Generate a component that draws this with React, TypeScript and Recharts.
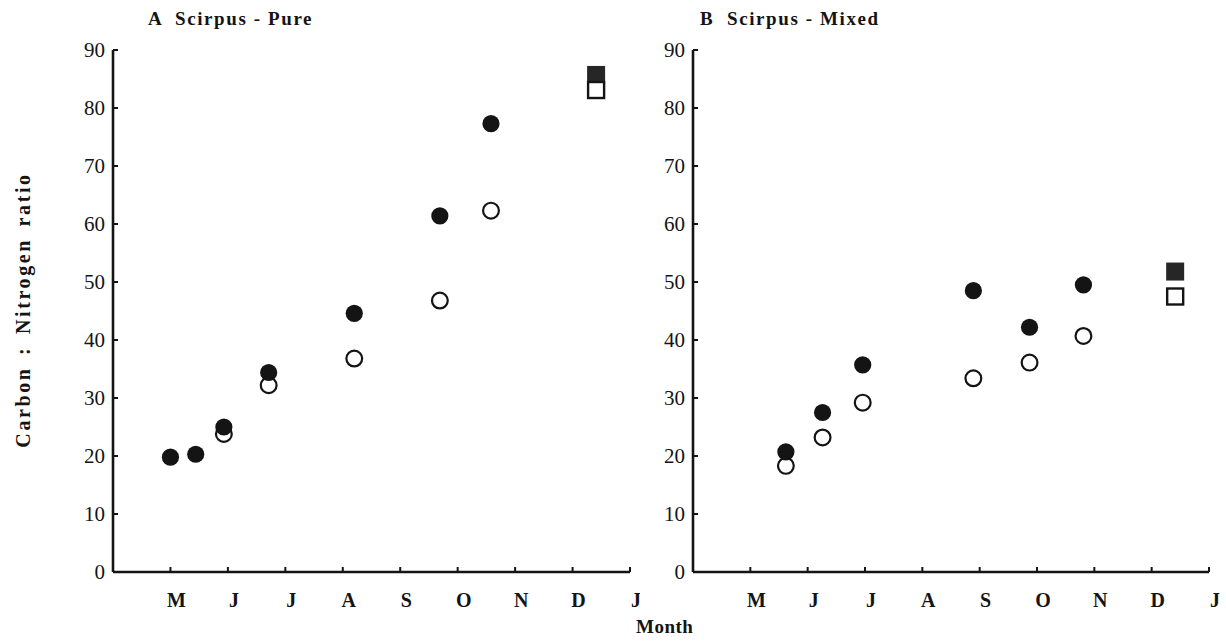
import { ScatterChart, Scatter, XAxis, YAxis } from "recharts"

// sampling dates as fractional months (5 = 1 May, 13 = 1 Jan)
const pureMonths = [5.0, 5.44, 5.93, 6.71, 8.2, 9.69, 10.58]
const pureSolid = [19.8, 20.3, 25.0, 34.4, 44.6, 61.4, 77.3]
const pureHollowMonths = [5.93, 6.71, 8.2, 9.69, 10.58]
const pureHollow = [23.8, 32.2, 36.8, 46.8, 62.3]

const mixedMonths = [5.62, 6.26, 6.96, 8.89, 9.87, 10.81]
const mixedSolid = [20.7, 27.5, 35.7, 48.5, 42.2, 49.5]
const mixedHollow = [18.3, 23.2, 29.2, 33.4, 36.1, 40.7]

// December squares
const squareMonth = 12.41
const pureSquares = { solid: 85.7, hollow: 83.1 }
const mixedSquares = { solid: 51.8, hollow: 47.5 }

const monthTicks = [5, 6, 7, 8, 9, 10, 11, 12, 13]
const monthLabels = ["M", "J", "J", "A", "S", "O", "N", "D", "J"]
const ratioTicks = [0, 10, 20, 30, 40, 50, 60, 70, 80, 90]

const INK = "#141414"
const SERIF = '"Liberation Serif", "DejaVu Serif", serif'

const toPoints = (xs: number[], ys: number[]) => xs.map((x, i) => ({ x, y: ys[i] }))

const SolidDot = (p: any) => <circle cx={p.cx} cy={p.cy} r={8.6} fill={INK} />
const HollowDot = (p: any) => (
  <circle cx={p.cx} cy={p.cy} r={7.9} fill="#fff" stroke={INK} strokeWidth={2.2} />
)
const SolidSquare = (p: any) => <rect x={p.cx - 9} y={p.cy - 9} width={18} height={18} fill="#262626" />
const HollowSquare = (p: any) => (
  <rect x={p.cx - 8} y={p.cy - 8} width={16} height={16} fill="#fff" stroke={INK} strokeWidth={2.4} />
)

const MonthTick = (props: any) => {
  const { x, y, index } = props
  return (
    <g>
      <line x1={x} y1={y} x2={x} y2={y - 5} stroke={INK} strokeWidth={2} />
      <text x={x + 6} y={y + 35} textAnchor="middle" fontFamily={SERIF} fontWeight="bold" fontSize={20} fill={INK}>
        {monthLabels[index]}
      </text>
    </g>
  )
}

const RatioTick = (props: any) => {
  const { x, y, payload } = props
  return (
    <g>
      <line x1={x} y1={y} x2={x + 5} y2={y} stroke={INK} strokeWidth={2} />
      <text x={x - 8} y={y + 7} textAnchor="end" fontFamily={SERIF} fontSize={21} fill={INK}>
        {payload.value}
      </text>
    </g>
  )
}

interface PanelProps {
  width: number
  left: number
  right: number
  months: number[]
  solid: number[]
  hollowMonths: number[]
  hollow: number[]
  squares: { solid: number; hollow: number }
}

function Panel({ width, left, right, months, solid, hollowMonths, hollow, squares }: PanelProps) {
  return (
    <ScatterChart width={width} height={641} margin={{ top: 50, left, right, bottom: 39 }}>
      <XAxis
        type="number"
        dataKey="x"
        domain={[4, 13]}
        ticks={monthTicks}
        interval={0}
        height={30}
        tickSize={0}
        tickMargin={0}
        tick={<MonthTick />}
        axisLine={{ stroke: INK, strokeWidth: 2.6 }}
        tickLine={false}
      />
      <YAxis
        type="number"
        dataKey="y"
        domain={[0, 90]}
        ticks={ratioTicks}
        interval={0}
        width={40}
        tickSize={0}
        tickMargin={0}
        tick={<RatioTick />}
        axisLine={{ stroke: INK, strokeWidth: 2.6 }}
        tickLine={false}
      />
      <Scatter data={[{ x: squareMonth, y: squares.solid }]} shape={SolidSquare} isAnimationActive={false} />
      <Scatter data={[{ x: squareMonth, y: squares.hollow }]} shape={HollowSquare} isAnimationActive={false} />
      <Scatter data={toPoints(hollowMonths, hollow)} shape={HollowDot} isAnimationActive={false} />
      <Scatter data={toPoints(months, solid)} shape={SolidDot} isAnimationActive={false} />
    </ScatterChart>
  )
}

const textStyle: React.CSSProperties = {
  position: "absolute",
  fontFamily: SERIF,
  fontWeight: "bold",
  color: INK,
  whiteSpace: "pre",
  lineHeight: 1,
}

export default function App() {
  return (
    <div style={{ position: "absolute", left: 0, top: 0, width: 1226, height: 641, background: "#fff", overflow: "hidden" }}>
      <div style={{ position: "absolute", left: 0, top: 0 }}>
        <Panel
          width={640}
          left={73}
          right={10}
          months={pureMonths}
          solid={pureSolid}
          hollowMonths={pureHollowMonths}
          hollow={pureHollow}
          squares={pureSquares}
        />
      </div>
      <div style={{ position: "absolute", left: 600, top: 0 }}>
        <Panel
          width={626}
          left={53}
          right={17}
          months={mixedMonths}
          solid={mixedSolid}
          hollowMonths={mixedMonths}
          hollow={mixedHollow}
          squares={mixedSquares}
        />
      </div>
      <div style={{ ...textStyle, left: 148, top: 9, fontSize: 19, letterSpacing: 1.6 }}>A  Scirpus - Pure</div>
      <div style={{ ...textStyle, left: 700, top: 9, fontSize: 19, letterSpacing: 1.6 }}>B  Scirpus - Mixed</div>
      <div style={{ ...textStyle, left: 636, top: 617, fontSize: 19, letterSpacing: 0.5 }}>Month</div>
      <div
        style={{
          ...textStyle,
          left: 23,
          top: 310,
          fontSize: 20,
          letterSpacing: 2.6,
          wordSpacing: 4,
          transform: "translate(-50%, -50%) rotate(-90deg)",
        }}
      >
        Carbon : Nitrogen ratio
      </div>
    </div>
  )
}
